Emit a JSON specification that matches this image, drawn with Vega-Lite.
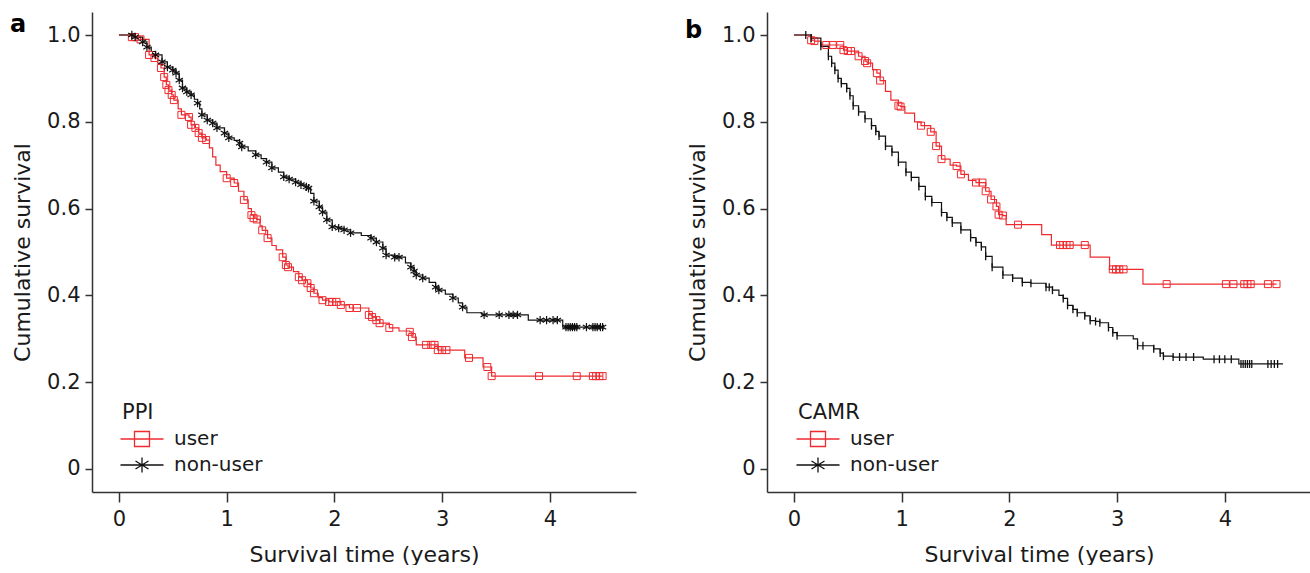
{
  "$schema": "https://vega.github.io/schema/vega-lite/v6.json",
  "background": "white",
  "padding": {"left": 10, "top": 12, "right": 0, "bottom": 0},
  "spacing": 49,
  "config": {
    "view": {"stroke": null},
    "font": "DejaVu Sans",
    "axis": {
      "grid": false,
      "domainColor": "#333333",
      "domainWidth": 1.5,
      "tickColor": "#333333",
      "tickWidth": 1.5,
      "labelFont": "DejaVu Sans",
      "labelFontSize": 21,
      "labelColor": "#1a1a1a",
      "titleFont": "DejaVu Sans",
      "titleFontSize": 22,
      "titleFontWeight": "normal",
      "titleColor": "#1a1a1a"
    },
    "legend": {
      "titleFont": "DejaVu Sans",
      "titleFontSize": 21,
      "titleFontWeight": "normal",
      "titleColor": "#1a1a1a",
      "labelFont": "DejaVu Sans",
      "labelFontSize": 20,
      "labelColor": "#1a1a1a"
    }
  },
  "resolve": {"scale": {"color": "independent", "x": "independent", "y": "independent"}, "legend": {"color": "independent"}},
  "datasets": {
    "km": [
      {"p":"a","g":"user","t":0,"s":1,"c":0},
      {"p":"a","g":"user","t":0.12,"s":0.995,"c":1},
      {"p":"a","g":"user","t":0.15,"s":0.995,"c":1},
      {"p":"a","g":"user","t":0.2,"s":0.99,"c":1},
      {"p":"a","g":"user","t":0.28,"s":0.954,"c":1},
      {"p":"a","g":"user","t":0.33,"s":0.947,"c":1},
      {"p":"a","g":"user","t":0.36,"s":0.935,"c":0},
      {"p":"a","g":"user","t":0.39,"s":0.924,"c":1},
      {"p":"a","g":"user","t":0.42,"s":0.903,"c":1},
      {"p":"a","g":"user","t":0.44,"s":0.885,"c":1},
      {"p":"a","g":"user","t":0.46,"s":0.873,"c":1},
      {"p":"a","g":"user","t":0.49,"s":0.862,"c":1},
      {"p":"a","g":"user","t":0.51,"s":0.85,"c":1},
      {"p":"a","g":"user","t":0.55,"s":0.83,"c":0},
      {"p":"a","g":"user","t":0.58,"s":0.816,"c":1},
      {"p":"a","g":"user","t":0.65,"s":0.811,"c":1},
      {"p":"a","g":"user","t":0.67,"s":0.793,"c":1},
      {"p":"a","g":"user","t":0.71,"s":0.786,"c":1},
      {"p":"a","g":"user","t":0.74,"s":0.774,"c":1},
      {"p":"a","g":"user","t":0.77,"s":0.763,"c":1},
      {"p":"a","g":"user","t":0.81,"s":0.758,"c":1},
      {"p":"a","g":"user","t":0.84,"s":0.74,"c":0},
      {"p":"a","g":"user","t":0.87,"s":0.719,"c":0},
      {"p":"a","g":"user","t":0.9,"s":0.7,"c":0},
      {"p":"a","g":"user","t":0.94,"s":0.685,"c":0},
      {"p":"a","g":"user","t":1.0,"s":0.67,"c":1},
      {"p":"a","g":"user","t":1.07,"s":0.659,"c":1},
      {"p":"a","g":"user","t":1.11,"s":0.64,"c":0},
      {"p":"a","g":"user","t":1.16,"s":0.62,"c":1},
      {"p":"a","g":"user","t":1.2,"s":0.6,"c":0},
      {"p":"a","g":"user","t":1.23,"s":0.585,"c":1},
      {"p":"a","g":"user","t":1.25,"s":0.578,"c":1},
      {"p":"a","g":"user","t":1.28,"s":0.575,"c":1},
      {"p":"a","g":"user","t":1.31,"s":0.56,"c":0},
      {"p":"a","g":"user","t":1.33,"s":0.55,"c":1},
      {"p":"a","g":"user","t":1.38,"s":0.532,"c":1},
      {"p":"a","g":"user","t":1.42,"s":0.515,"c":0},
      {"p":"a","g":"user","t":1.46,"s":0.505,"c":0},
      {"p":"a","g":"user","t":1.52,"s":0.488,"c":1},
      {"p":"a","g":"user","t":1.55,"s":0.47,"c":1},
      {"p":"a","g":"user","t":1.57,"s":0.465,"c":1},
      {"p":"a","g":"user","t":1.62,"s":0.455,"c":0},
      {"p":"a","g":"user","t":1.67,"s":0.442,"c":1},
      {"p":"a","g":"user","t":1.7,"s":0.435,"c":1},
      {"p":"a","g":"user","t":1.75,"s":0.428,"c":1},
      {"p":"a","g":"user","t":1.78,"s":0.417,"c":1},
      {"p":"a","g":"user","t":1.81,"s":0.405,"c":1},
      {"p":"a","g":"user","t":1.85,"s":0.395,"c":0},
      {"p":"a","g":"user","t":1.89,"s":0.389,"c":1},
      {"p":"a","g":"user","t":1.95,"s":0.385,"c":1},
      {"p":"a","g":"user","t":1.98,"s":0.385,"c":1},
      {"p":"a","g":"user","t":2.02,"s":0.385,"c":1},
      {"p":"a","g":"user","t":2.06,"s":0.378,"c":1},
      {"p":"a","g":"user","t":2.14,"s":0.371,"c":1},
      {"p":"a","g":"user","t":2.21,"s":0.371,"c":1},
      {"p":"a","g":"user","t":2.32,"s":0.355,"c":1},
      {"p":"a","g":"user","t":2.35,"s":0.35,"c":1},
      {"p":"a","g":"user","t":2.39,"s":0.343,"c":1},
      {"p":"a","g":"user","t":2.42,"s":0.336,"c":1},
      {"p":"a","g":"user","t":2.51,"s":0.325,"c":1},
      {"p":"a","g":"user","t":2.6,"s":0.318,"c":0},
      {"p":"a","g":"user","t":2.7,"s":0.316,"c":1},
      {"p":"a","g":"user","t":2.72,"s":0.304,"c":1},
      {"p":"a","g":"user","t":2.76,"s":0.286,"c":0},
      {"p":"a","g":"user","t":2.85,"s":0.286,"c":1},
      {"p":"a","g":"user","t":2.9,"s":0.286,"c":1},
      {"p":"a","g":"user","t":2.93,"s":0.286,"c":1},
      {"p":"a","g":"user","t":2.96,"s":0.274,"c":1},
      {"p":"a","g":"user","t":3.0,"s":0.274,"c":1},
      {"p":"a","g":"user","t":3.04,"s":0.274,"c":1},
      {"p":"a","g":"user","t":3.21,"s":0.256,"c":0},
      {"p":"a","g":"user","t":3.25,"s":0.256,"c":1},
      {"p":"a","g":"user","t":3.38,"s":0.235,"c":0},
      {"p":"a","g":"user","t":3.42,"s":0.235,"c":1},
      {"p":"a","g":"user","t":3.46,"s":0.214,"c":1},
      {"p":"a","g":"user","t":3.9,"s":0.214,"c":1},
      {"p":"a","g":"user","t":4.25,"s":0.214,"c":1},
      {"p":"a","g":"user","t":4.4,"s":0.214,"c":1},
      {"p":"a","g":"user","t":4.43,"s":0.214,"c":1},
      {"p":"a","g":"user","t":4.46,"s":0.214,"c":1},
      {"p":"a","g":"user","t":4.49,"s":0.214,"c":1},

      {"p":"a","g":"non-user","t":0,"s":1,"c":0},
      {"p":"a","g":"non-user","t":0.12,"s":1,"c":1},
      {"p":"a","g":"non-user","t":0.15,"s":0.995,"c":1},
      {"p":"a","g":"non-user","t":0.22,"s":0.984,"c":1},
      {"p":"a","g":"non-user","t":0.26,"s":0.972,"c":1},
      {"p":"a","g":"non-user","t":0.3,"s":0.962,"c":0},
      {"p":"a","g":"non-user","t":0.34,"s":0.954,"c":1},
      {"p":"a","g":"non-user","t":0.4,"s":0.938,"c":1},
      {"p":"a","g":"non-user","t":0.45,"s":0.926,"c":1},
      {"p":"a","g":"non-user","t":0.5,"s":0.919,"c":1},
      {"p":"a","g":"non-user","t":0.53,"s":0.912,"c":1},
      {"p":"a","g":"non-user","t":0.56,"s":0.896,"c":1},
      {"p":"a","g":"non-user","t":0.59,"s":0.878,"c":1},
      {"p":"a","g":"non-user","t":0.63,"s":0.869,"c":1},
      {"p":"a","g":"non-user","t":0.67,"s":0.862,"c":1},
      {"p":"a","g":"non-user","t":0.7,"s":0.852,"c":0},
      {"p":"a","g":"non-user","t":0.73,"s":0.843,"c":1},
      {"p":"a","g":"non-user","t":0.75,"s":0.83,"c":0},
      {"p":"a","g":"non-user","t":0.77,"s":0.816,"c":1},
      {"p":"a","g":"non-user","t":0.82,"s":0.804,"c":1},
      {"p":"a","g":"non-user","t":0.87,"s":0.797,"c":1},
      {"p":"a","g":"non-user","t":0.91,"s":0.786,"c":1},
      {"p":"a","g":"non-user","t":0.98,"s":0.774,"c":1},
      {"p":"a","g":"non-user","t":1.02,"s":0.763,"c":1},
      {"p":"a","g":"non-user","t":1.07,"s":0.757,"c":0},
      {"p":"a","g":"non-user","t":1.12,"s":0.751,"c":1},
      {"p":"a","g":"non-user","t":1.14,"s":0.742,"c":1},
      {"p":"a","g":"non-user","t":1.2,"s":0.733,"c":0},
      {"p":"a","g":"non-user","t":1.27,"s":0.724,"c":1},
      {"p":"a","g":"non-user","t":1.32,"s":0.715,"c":0},
      {"p":"a","g":"non-user","t":1.37,"s":0.707,"c":1},
      {"p":"a","g":"non-user","t":1.42,"s":0.694,"c":1},
      {"p":"a","g":"non-user","t":1.48,"s":0.684,"c":0},
      {"p":"a","g":"non-user","t":1.53,"s":0.673,"c":1},
      {"p":"a","g":"non-user","t":1.58,"s":0.668,"c":1},
      {"p":"a","g":"non-user","t":1.64,"s":0.661,"c":1},
      {"p":"a","g":"non-user","t":1.69,"s":0.655,"c":1},
      {"p":"a","g":"non-user","t":1.74,"s":0.65,"c":1},
      {"p":"a","g":"non-user","t":1.76,"s":0.647,"c":1},
      {"p":"a","g":"non-user","t":1.78,"s":0.635,"c":0},
      {"p":"a","g":"non-user","t":1.81,"s":0.617,"c":1},
      {"p":"a","g":"non-user","t":1.86,"s":0.604,"c":1},
      {"p":"a","g":"non-user","t":1.89,"s":0.592,"c":1},
      {"p":"a","g":"non-user","t":1.93,"s":0.574,"c":1},
      {"p":"a","g":"non-user","t":1.98,"s":0.558,"c":1},
      {"p":"a","g":"non-user","t":2.04,"s":0.555,"c":1},
      {"p":"a","g":"non-user","t":2.09,"s":0.551,"c":1},
      {"p":"a","g":"non-user","t":2.15,"s":0.544,"c":1},
      {"p":"a","g":"non-user","t":2.25,"s":0.538,"c":0},
      {"p":"a","g":"non-user","t":2.34,"s":0.532,"c":1},
      {"p":"a","g":"non-user","t":2.39,"s":0.523,"c":1},
      {"p":"a","g":"non-user","t":2.45,"s":0.509,"c":1},
      {"p":"a","g":"non-user","t":2.48,"s":0.493,"c":1},
      {"p":"a","g":"non-user","t":2.56,"s":0.488,"c":1},
      {"p":"a","g":"non-user","t":2.6,"s":0.488,"c":1},
      {"p":"a","g":"non-user","t":2.66,"s":0.475,"c":0},
      {"p":"a","g":"non-user","t":2.71,"s":0.465,"c":1},
      {"p":"a","g":"non-user","t":2.74,"s":0.456,"c":1},
      {"p":"a","g":"non-user","t":2.76,"s":0.447,"c":1},
      {"p":"a","g":"non-user","t":2.82,"s":0.44,"c":1},
      {"p":"a","g":"non-user","t":2.88,"s":0.43,"c":0},
      {"p":"a","g":"non-user","t":2.94,"s":0.419,"c":1},
      {"p":"a","g":"non-user","t":2.97,"s":0.412,"c":1},
      {"p":"a","g":"non-user","t":3.03,"s":0.403,"c":0},
      {"p":"a","g":"non-user","t":3.1,"s":0.394,"c":1},
      {"p":"a","g":"non-user","t":3.15,"s":0.383,"c":0},
      {"p":"a","g":"non-user","t":3.19,"s":0.373,"c":1},
      {"p":"a","g":"non-user","t":3.23,"s":0.36,"c":0},
      {"p":"a","g":"non-user","t":3.37,"s":0.355,"c":0},
      {"p":"a","g":"non-user","t":3.39,"s":0.355,"c":1},
      {"p":"a","g":"non-user","t":3.53,"s":0.355,"c":1},
      {"p":"a","g":"non-user","t":3.62,"s":0.355,"c":1},
      {"p":"a","g":"non-user","t":3.66,"s":0.355,"c":1},
      {"p":"a","g":"non-user","t":3.7,"s":0.355,"c":1},
      {"p":"a","g":"non-user","t":3.8,"s":0.343,"c":0},
      {"p":"a","g":"non-user","t":3.91,"s":0.343,"c":1},
      {"p":"a","g":"non-user","t":3.97,"s":0.343,"c":1},
      {"p":"a","g":"non-user","t":4.03,"s":0.343,"c":1},
      {"p":"a","g":"non-user","t":4.07,"s":0.343,"c":1},
      {"p":"a","g":"non-user","t":4.12,"s":0.327,"c":0},
      {"p":"a","g":"non-user","t":4.15,"s":0.327,"c":1},
      {"p":"a","g":"non-user","t":4.17,"s":0.327,"c":1},
      {"p":"a","g":"non-user","t":4.19,"s":0.327,"c":1},
      {"p":"a","g":"non-user","t":4.21,"s":0.327,"c":1},
      {"p":"a","g":"non-user","t":4.23,"s":0.327,"c":1},
      {"p":"a","g":"non-user","t":4.25,"s":0.327,"c":1},
      {"p":"a","g":"non-user","t":4.34,"s":0.327,"c":1},
      {"p":"a","g":"non-user","t":4.4,"s":0.327,"c":1},
      {"p":"a","g":"non-user","t":4.42,"s":0.327,"c":1},
      {"p":"a","g":"non-user","t":4.44,"s":0.327,"c":1},
      {"p":"a","g":"non-user","t":4.47,"s":0.327,"c":1},
      {"p":"a","g":"non-user","t":4.49,"s":0.327,"c":1},

      {"p":"b","g":"user","t":0,"s":1,"c":0},
      {"p":"b","g":"user","t":0.16,"s":0.988,"c":1},
      {"p":"b","g":"user","t":0.19,"s":0.986,"c":1},
      {"p":"b","g":"user","t":0.25,"s":0.977,"c":0},
      {"p":"b","g":"user","t":0.3,"s":0.977,"c":1},
      {"p":"b","g":"user","t":0.36,"s":0.977,"c":1},
      {"p":"b","g":"user","t":0.43,"s":0.977,"c":1},
      {"p":"b","g":"user","t":0.46,"s":0.965,"c":1},
      {"p":"b","g":"user","t":0.5,"s":0.963,"c":1},
      {"p":"b","g":"user","t":0.53,"s":0.963,"c":1},
      {"p":"b","g":"user","t":0.6,"s":0.951,"c":1},
      {"p":"b","g":"user","t":0.66,"s":0.94,"c":1},
      {"p":"b","g":"user","t":0.68,"s":0.935,"c":1},
      {"p":"b","g":"user","t":0.73,"s":0.92,"c":0},
      {"p":"b","g":"user","t":0.77,"s":0.912,"c":1},
      {"p":"b","g":"user","t":0.8,"s":0.895,"c":1},
      {"p":"b","g":"user","t":0.85,"s":0.87,"c":0},
      {"p":"b","g":"user","t":0.9,"s":0.85,"c":0},
      {"p":"b","g":"user","t":0.97,"s":0.837,"c":1},
      {"p":"b","g":"user","t":0.99,"s":0.835,"c":1},
      {"p":"b","g":"user","t":1.03,"s":0.82,"c":0},
      {"p":"b","g":"user","t":1.12,"s":0.8,"c":0},
      {"p":"b","g":"user","t":1.18,"s":0.791,"c":1},
      {"p":"b","g":"user","t":1.27,"s":0.777,"c":1},
      {"p":"b","g":"user","t":1.32,"s":0.744,"c":1},
      {"p":"b","g":"user","t":1.37,"s":0.714,"c":1},
      {"p":"b","g":"user","t":1.45,"s":0.7,"c":0},
      {"p":"b","g":"user","t":1.51,"s":0.698,"c":1},
      {"p":"b","g":"user","t":1.55,"s":0.679,"c":1},
      {"p":"b","g":"user","t":1.62,"s":0.665,"c":0},
      {"p":"b","g":"user","t":1.69,"s":0.66,"c":1},
      {"p":"b","g":"user","t":1.75,"s":0.66,"c":1},
      {"p":"b","g":"user","t":1.78,"s":0.64,"c":1},
      {"p":"b","g":"user","t":1.83,"s":0.621,"c":1},
      {"p":"b","g":"user","t":1.88,"s":0.605,"c":1},
      {"p":"b","g":"user","t":1.9,"s":0.586,"c":1},
      {"p":"b","g":"user","t":1.94,"s":0.584,"c":1},
      {"p":"b","g":"user","t":1.97,"s":0.563,"c":0},
      {"p":"b","g":"user","t":2.08,"s":0.563,"c":1},
      {"p":"b","g":"user","t":2.3,"s":0.54,"c":0},
      {"p":"b","g":"user","t":2.39,"s":0.516,"c":0},
      {"p":"b","g":"user","t":2.47,"s":0.516,"c":1},
      {"p":"b","g":"user","t":2.5,"s":0.516,"c":1},
      {"p":"b","g":"user","t":2.53,"s":0.516,"c":1},
      {"p":"b","g":"user","t":2.56,"s":0.516,"c":1},
      {"p":"b","g":"user","t":2.7,"s":0.516,"c":1},
      {"p":"b","g":"user","t":2.75,"s":0.488,"c":0},
      {"p":"b","g":"user","t":2.93,"s":0.46,"c":0},
      {"p":"b","g":"user","t":2.96,"s":0.46,"c":1},
      {"p":"b","g":"user","t":2.99,"s":0.46,"c":1},
      {"p":"b","g":"user","t":3.02,"s":0.46,"c":1},
      {"p":"b","g":"user","t":3.06,"s":0.46,"c":1},
      {"p":"b","g":"user","t":3.24,"s":0.426,"c":0},
      {"p":"b","g":"user","t":3.46,"s":0.426,"c":1},
      {"p":"b","g":"user","t":4.01,"s":0.426,"c":1},
      {"p":"b","g":"user","t":4.08,"s":0.426,"c":1},
      {"p":"b","g":"user","t":4.18,"s":0.426,"c":1},
      {"p":"b","g":"user","t":4.21,"s":0.426,"c":1},
      {"p":"b","g":"user","t":4.24,"s":0.426,"c":1},
      {"p":"b","g":"user","t":4.4,"s":0.426,"c":1},
      {"p":"b","g":"user","t":4.48,"s":0.426,"c":1},

      {"p":"b","g":"non-user","t":0,"s":1,"c":0},
      {"p":"b","g":"non-user","t":0.11,"s":1,"c":1},
      {"p":"b","g":"non-user","t":0.16,"s":0.993,"c":1},
      {"p":"b","g":"non-user","t":0.25,"s":0.974,"c":1},
      {"p":"b","g":"non-user","t":0.32,"s":0.951,"c":1},
      {"p":"b","g":"non-user","t":0.35,"s":0.935,"c":1},
      {"p":"b","g":"non-user","t":0.38,"s":0.919,"c":1},
      {"p":"b","g":"non-user","t":0.41,"s":0.9,"c":1},
      {"p":"b","g":"non-user","t":0.44,"s":0.888,"c":1},
      {"p":"b","g":"non-user","t":0.49,"s":0.877,"c":1},
      {"p":"b","g":"non-user","t":0.52,"s":0.86,"c":1},
      {"p":"b","g":"non-user","t":0.55,"s":0.837,"c":1},
      {"p":"b","g":"non-user","t":0.6,"s":0.823,"c":1},
      {"p":"b","g":"non-user","t":0.66,"s":0.807,"c":1},
      {"p":"b","g":"non-user","t":0.72,"s":0.791,"c":1},
      {"p":"b","g":"non-user","t":0.76,"s":0.778,"c":1},
      {"p":"b","g":"non-user","t":0.79,"s":0.767,"c":1},
      {"p":"b","g":"non-user","t":0.85,"s":0.744,"c":1},
      {"p":"b","g":"non-user","t":0.91,"s":0.73,"c":1},
      {"p":"b","g":"non-user","t":0.97,"s":0.707,"c":1},
      {"p":"b","g":"non-user","t":1.04,"s":0.684,"c":1},
      {"p":"b","g":"non-user","t":1.09,"s":0.672,"c":1},
      {"p":"b","g":"non-user","t":1.16,"s":0.651,"c":1},
      {"p":"b","g":"non-user","t":1.22,"s":0.628,"c":1},
      {"p":"b","g":"non-user","t":1.28,"s":0.614,"c":1},
      {"p":"b","g":"non-user","t":1.37,"s":0.591,"c":1},
      {"p":"b","g":"non-user","t":1.42,"s":0.58,"c":1},
      {"p":"b","g":"non-user","t":1.47,"s":0.567,"c":1},
      {"p":"b","g":"non-user","t":1.55,"s":0.551,"c":1},
      {"p":"b","g":"non-user","t":1.64,"s":0.533,"c":1},
      {"p":"b","g":"non-user","t":1.69,"s":0.522,"c":1},
      {"p":"b","g":"non-user","t":1.74,"s":0.512,"c":1},
      {"p":"b","g":"non-user","t":1.78,"s":0.49,"c":1},
      {"p":"b","g":"non-user","t":1.84,"s":0.465,"c":1},
      {"p":"b","g":"non-user","t":1.94,"s":0.447,"c":1},
      {"p":"b","g":"non-user","t":2.03,"s":0.44,"c":1},
      {"p":"b","g":"non-user","t":2.12,"s":0.43,"c":1},
      {"p":"b","g":"non-user","t":2.2,"s":0.428,"c":1},
      {"p":"b","g":"non-user","t":2.34,"s":0.419,"c":1},
      {"p":"b","g":"non-user","t":2.37,"s":0.419,"c":1},
      {"p":"b","g":"non-user","t":2.4,"s":0.412,"c":1},
      {"p":"b","g":"non-user","t":2.46,"s":0.4,"c":0},
      {"p":"b","g":"non-user","t":2.5,"s":0.393,"c":1},
      {"p":"b","g":"non-user","t":2.54,"s":0.377,"c":1},
      {"p":"b","g":"non-user","t":2.59,"s":0.368,"c":1},
      {"p":"b","g":"non-user","t":2.63,"s":0.36,"c":1},
      {"p":"b","g":"non-user","t":2.7,"s":0.353,"c":1},
      {"p":"b","g":"non-user","t":2.75,"s":0.342,"c":1},
      {"p":"b","g":"non-user","t":2.8,"s":0.34,"c":1},
      {"p":"b","g":"non-user","t":2.84,"s":0.337,"c":1},
      {"p":"b","g":"non-user","t":2.92,"s":0.326,"c":1},
      {"p":"b","g":"non-user","t":2.96,"s":0.314,"c":1},
      {"p":"b","g":"non-user","t":3.0,"s":0.307,"c":1},
      {"p":"b","g":"non-user","t":3.15,"s":0.3,"c":0},
      {"p":"b","g":"non-user","t":3.19,"s":0.284,"c":1},
      {"p":"b","g":"non-user","t":3.24,"s":0.284,"c":1},
      {"p":"b","g":"non-user","t":3.34,"s":0.277,"c":1},
      {"p":"b","g":"non-user","t":3.4,"s":0.267,"c":1},
      {"p":"b","g":"non-user","t":3.43,"s":0.26,"c":1},
      {"p":"b","g":"non-user","t":3.52,"s":0.258,"c":1},
      {"p":"b","g":"non-user","t":3.58,"s":0.258,"c":1},
      {"p":"b","g":"non-user","t":3.64,"s":0.258,"c":1},
      {"p":"b","g":"non-user","t":3.71,"s":0.258,"c":1},
      {"p":"b","g":"non-user","t":3.8,"s":0.253,"c":0},
      {"p":"b","g":"non-user","t":3.9,"s":0.253,"c":1},
      {"p":"b","g":"non-user","t":3.95,"s":0.253,"c":1},
      {"p":"b","g":"non-user","t":4.0,"s":0.253,"c":1},
      {"p":"b","g":"non-user","t":4.06,"s":0.253,"c":1},
      {"p":"b","g":"non-user","t":4.13,"s":0.242,"c":0},
      {"p":"b","g":"non-user","t":4.15,"s":0.242,"c":1},
      {"p":"b","g":"non-user","t":4.17,"s":0.242,"c":1},
      {"p":"b","g":"non-user","t":4.19,"s":0.242,"c":1},
      {"p":"b","g":"non-user","t":4.21,"s":0.242,"c":1},
      {"p":"b","g":"non-user","t":4.23,"s":0.242,"c":1},
      {"p":"b","g":"non-user","t":4.25,"s":0.242,"c":1},
      {"p":"b","g":"non-user","t":4.4,"s":0.242,"c":1},
      {"p":"b","g":"non-user","t":4.43,"s":0.242,"c":1},
      {"p":"b","g":"non-user","t":4.46,"s":0.242,"c":1},
      {"p":"b","g":"non-user","t":4.49,"s":0.242,"c":1},
      {"p":"b","g":"non-user","t":4.54,"s":0.242,"c":0}
    ]
  },
  "hconcat": [
    {
      "width": 544,
      "height": 480,
      "title": {"text": "a", "anchor": "start", "frame": "group", "orient": "top", "offset": -44, "dx": -82, "dy": 0, "baseline": "alphabetic", "font": "DejaVu Sans", "fontSize": 24, "fontWeight": "bold", "color": "#000"},
      "data": {"name": "km"},
      "transform": [{"filter": "datum.p === 'a'"}],
      "encoding": {
        "x": {"field": "t", "type": "quantitative", "scale": {"domain": [-0.25, 4.8], "nice": false, "zero": false},
              "axis": {"title": "Survival time (years)", "values": [0, 1, 2, 3, 4], "format": "d", "tickSize": 10, "labelPadding": 6, "titlePadding": 15}},
        "y": {"field": "s", "type": "quantitative", "scale": {"domain": [-0.053, 1.053], "nice": false, "zero": false},
              "axis": {"title": "Cumulative survival", "values": [0, 0.2, 0.4, 0.6, 0.8, 1.0], "labelExpr": "datum.value == 0 ? '0' : format(datum.value, '.1f')", "tickSize": 7, "labelPadding": 5, "titlePadding": 12}}
      },
      "layer": [
        {
          "mark": {"type": "line", "interpolate": "step-after", "strokeWidth": 1.2},
          "encoding": {
            "color": {"field": "g", "type": "nominal",
              "scale": {"domain": ["user", "non-user"], "range": ["#ee2a2e", "#111111"]},
              "legend": {"title": "PPI", "orient": "none", "legendX": 30, "legendY": 390, "symbolSize": 400, "symbolOffset": 9, "labelOffset": 21, "rowPadding": 4, "titlePadding": 5, "symbolStrokeWidth": 1.3, "symbolFillColor": "transparent",
                "encode": {"symbols": {"update": {"shape": {"signal": "datum.value === 'user' ? 'M-2.15,0H2.15M-0.75,-0.75H0.75V0.75H-0.75Z' : 'M-2.15,0H2.15M0,-0.75V0.75M-0.65,-0.4L0.65,0.4M-0.65,0.4L0.65,-0.4'"}, "fill": {"value": "transparent"}}}}}
            }
          }
        },
        {
          "transform": [{"filter": "datum.c === 1 && datum.g === 'user'"}],
          "mark": {"type": "point", "shape": "square", "filled": false, "size": 49, "color": "#ee2a2e", "strokeWidth": 1, "opacity": 1}
        },
        {
          "transform": [{"filter": "datum.c === 1 && datum.g === 'non-user'"}],
          "mark": {"type": "point", "shape": "M0,-1V1M-0.87,-0.5L0.87,0.5M-0.87,0.5L0.87,-0.5", "filled": false, "size": 70, "color": "#111111", "strokeWidth": 1.2, "opacity": 1}
        }
      ]
    },
    {
      "width": 544,
      "height": 480,
      "title": {"text": "b", "anchor": "start", "frame": "group", "orient": "top", "offset": -50, "dx": -82, "dy": 0, "baseline": "alphabetic", "font": "DejaVu Sans", "fontSize": 24, "fontWeight": "bold", "color": "#000"},
      "data": {"name": "km"},
      "transform": [{"filter": "datum.p === 'b'"}],
      "encoding": {
        "x": {"field": "t", "type": "quantitative", "scale": {"domain": [-0.25, 4.8], "nice": false, "zero": false},
              "axis": {"title": "Survival time (years)", "values": [0, 1, 2, 3, 4], "format": "d", "tickSize": 10, "labelPadding": 6, "titlePadding": 15}},
        "y": {"field": "s", "type": "quantitative", "scale": {"domain": [-0.053, 1.053], "nice": false, "zero": false},
              "axis": {"title": "Cumulative survival", "values": [0, 0.2, 0.4, 0.6, 0.8, 1.0], "labelExpr": "datum.value == 0 ? '0' : format(datum.value, '.1f')", "tickSize": 7, "labelPadding": 5, "titlePadding": 12}}
      },
      "layer": [
        {
          "mark": {"type": "line", "interpolate": "step-after", "strokeWidth": 1.2},
          "encoding": {
            "color": {"field": "g", "type": "nominal",
              "scale": {"domain": ["user", "non-user"], "range": ["#ee2a2e", "#111111"]},
              "legend": {"title": "CAMR", "orient": "none", "legendX": 31, "legendY": 390, "symbolSize": 400, "symbolOffset": 9, "labelOffset": 21, "rowPadding": 4, "titlePadding": 5, "symbolStrokeWidth": 1.3, "symbolFillColor": "transparent",
                "encode": {"symbols": {"update": {"shape": {"signal": "datum.value === 'user' ? 'M-2.15,0H2.15M-0.75,-0.75H0.75V0.75H-0.75Z' : 'M-2.15,0H2.15M0,-0.75V0.75M-0.65,-0.4L0.65,0.4M-0.65,0.4L0.65,-0.4'"}, "fill": {"value": "transparent"}}}}}
            }
          }
        },
        {
          "transform": [{"filter": "datum.c === 1 && datum.g === 'user'"}],
          "mark": {"type": "point", "shape": "square", "filled": false, "size": 49, "color": "#ee2a2e", "strokeWidth": 1, "opacity": 1}
        },
        {
          "transform": [{"filter": "datum.c === 1 && datum.g === 'non-user'"}],
          "mark": {"type": "point", "shape": "M0,-1V1", "filled": false, "size": 64, "color": "#111111", "strokeWidth": 1.3, "opacity": 1}
        }
      ]
    }
  ]
}
